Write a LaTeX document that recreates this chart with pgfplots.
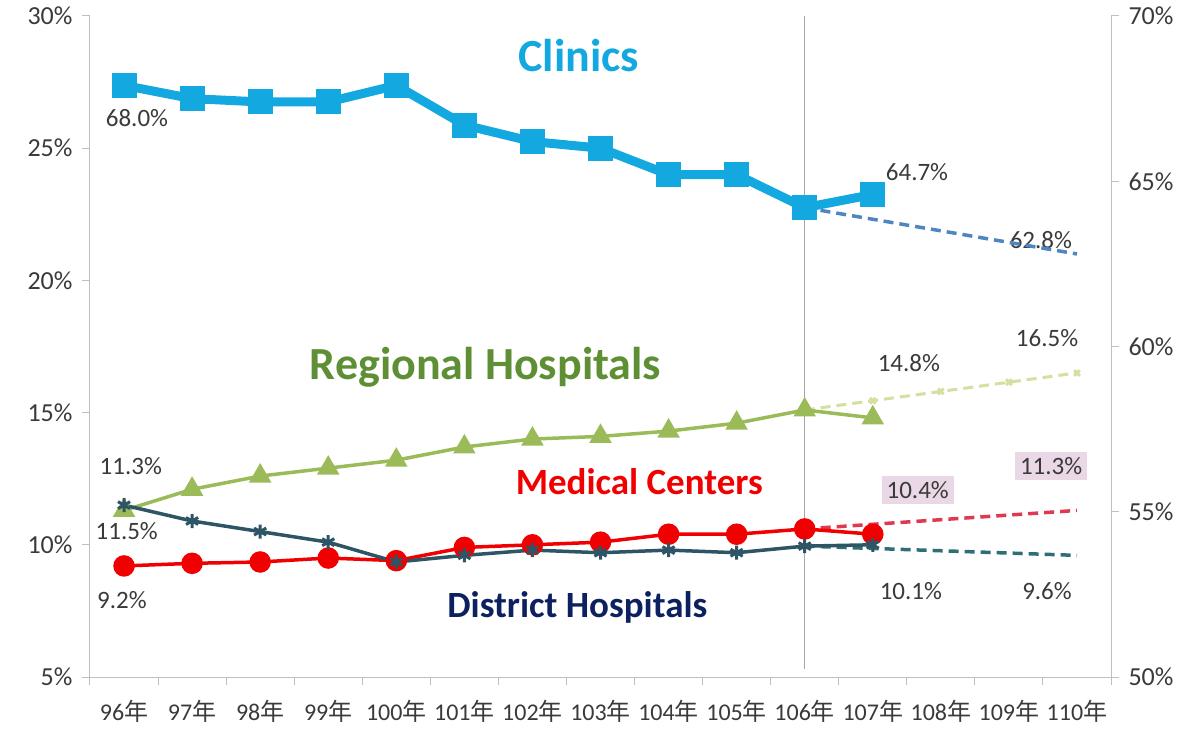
\documentclass[border=0pt]{standalone}
\usepackage{pgfplots}
\pgfplotsset{compat=1.18}
\usepackage{fontspec}
\setmainfont{Carlito}
\newfontfamily\cjk{Noto Sans CJK TC}

\definecolor{clin}{HTML}{14A8E0}
\definecolor{clinproj}{HTML}{4F86C0}
\definecolor{regtext}{HTML}{5F8F35}
\definecolor{regline}{HTML}{9BBB59}
\definecolor{regproj}{HTML}{D3E0A0}
\definecolor{medline}{HTML}{F00000}
\definecolor{medproj}{HTML}{E0384F}
\definecolor{distline}{HTML}{2E5566}
\definecolor{distproj}{HTML}{2F6E72}
\definecolor{disttext}{HTML}{0D2060}
\definecolor{axgray}{HTML}{BFBFBF}
\definecolor{tickgray}{HTML}{3A3A3A}
\definecolor{boxpink}{HTML}{EAD8E6}

\tikzset{lbl/.style={font=\fontsize{25}{25}\selectfont, text=tickgray}}
\pgfplotsset{
  base/.style={
    at={(0,0)}, anchor=south west,
    scale only axis, width=1021pt, height=661pt,
    xmin=-0.5, xmax=14.5, clip=false,
    axis line style={axgray, line width=1pt},
    tick style={axgray, line width=1pt},
    tick align=outside, major tick length=8pt, minor tick length=8pt,
    /pgf/number format/assume math mode=true,
    ticklabel style={text=tickgray},
  },
}

\begin{document}
\begin{tikzpicture}
\useasboundingbox (-90pt,-51pt) rectangle (1106pt,677pt);
\begin{axis}[base,
  ymin=5, ymax=30,
  axis x line*=bottom, axis y line*=left,
  xtick={0,...,14},
  xticklabels={96{\cjk 年},97{\cjk 年},98{\cjk 年},99{\cjk 年},100{\cjk 年},101{\cjk 年},102{\cjk 年},103{\cjk 年},104{\cjk 年},105{\cjk 年},106{\cjk 年},107{\cjk 年},108{\cjk 年},109{\cjk 年},110{\cjk 年}},
  major x tick style={draw=none},
  minor xtick={-0.5,0.5,...,14.5},
  xticklabel style={font=\fontsize{24}{24}\selectfont, yshift=-12pt},
  ytick={5,10,...,30},
  yticklabel={\pgfmathprintnumber{\tick}\%},
  yticklabel style={font=\fontsize{26}{26}\selectfont, xshift=-6pt},
]
\draw[gray!70, line width=1pt] (axis cs:10,30) -- (axis cs:10,5.3);

% projections
\addplot[regproj, line width=3pt, dash pattern=on 10pt off 6pt, mark=x, mark size=4pt, mark options={solid}] coordinates {(10,15.1) (11,15.45) (12,15.8) (13,16.15) (14,16.5)};
\addplot[medproj, line width=3.5pt, dash pattern=on 10pt off 6pt] coordinates {(10,10.6) (14,11.3)};
\addplot[distproj, line width=3.5pt, dash pattern=on 10pt off 6pt] coordinates {(10,9.95) (14,9.6)};

% Regional Hospitals
\addplot[regline, line width=3.5pt, mark=triangle*, mark size=9.5pt] coordinates {
(0,11.3) (1,12.1) (2,12.6) (3,12.9) (4,13.2) (5,13.7) (6,14.0) (7,14.1) (8,14.3) (9,14.6) (10,15.1) (11,14.8)};
% Medical Centers
\addplot[medline, line width=3.5pt, mark=*, mark size=9pt] coordinates {
(0,9.2) (1,9.3) (2,9.35) (3,9.5) (4,9.4) (5,9.9) (6,10.0) (7,10.1) (8,10.4) (9,10.4) (10,10.6) (11,10.4)};
% District Hospitals
\addplot[distline, line width=3.5pt, mark=asterisk, mark size=7pt, mark options={line width=3pt}] coordinates {
(0,11.5) (1,10.9) (2,10.5) (3,10.1) (4,9.35) (5,9.6) (6,9.8) (7,9.7) (8,9.8) (9,9.7) (10,9.95) (11,10.0)};

% titles
\node[font=\fontsize{46}{46}\selectfont\bfseries, text=clin] at (axis cs:6.68,28.52) {Clinics};
\node[font=\fontsize{46}{46}\selectfont\bfseries, text=regtext] at (axis cs:5.31,16.72) {Regional Hospitals};
\node[font=\fontsize{37}{37}\selectfont\bfseries, text=medline] at (axis cs:7.57,12.38) {Medical Centers};
\node[font=\fontsize{37}{37}\selectfont\bfseries, text=disttext] at (axis cs:6.66,7.65) {District Hospitals};

% value labels
\node[lbl] at (axis cs:0.19,26.14) {68.0\%};
\node[lbl] at (axis cs:11.65,24.1) {64.7\%};
\node[lbl] at (axis cs:13.47,21.53) {62.8\%};
\node[lbl] at (axis cs:13.56,17.82) {16.5\%};
\node[lbl] at (axis cs:11.53,16.88) {14.8\%};
\node[lbl] at (axis cs:0.1,12.98) {11.3\%};
\node[lbl] at (axis cs:0.04,10.52) {11.5\%};
\node[lbl] at (axis cs:-0.03,7.91) {9.2\%};
\node[lbl, fill=boxpink, inner sep=5pt] at (axis cs:11.66,12.07) {10.4\%};
\node[lbl, fill=boxpink, inner sep=5pt] at (axis cs:13.62,12.98) {11.3\%};
\node[lbl] at (axis cs:11.56,8.25) {10.1\%};
\node[lbl] at (axis cs:13.56,8.25) {9.6\%};
\end{axis}

\begin{axis}[base,
  ymin=50, ymax=70,
  hide x axis,
  axis y line*=right,
  ytick={50,55,...,70},
  yticklabel={\pgfmathprintnumber{\tick}\%},
  yticklabel style={font=\fontsize{26}{26}\selectfont, xshift=6pt},
]
\addplot[clinproj, line width=3.5pt, dash pattern=on 10pt off 6pt] coordinates {(10,64.2) (14,62.8)};
\addplot[clin, line width=9pt, mark=square*, mark size=12pt, mark options={line width=1pt}] coordinates {
(0,67.9) (1,67.5) (2,67.4) (3,67.4) (4,67.9) (5,66.7) (6,66.2) (7,66.0) (8,65.2) (9,65.2) (10,64.2) (11,64.6)};
\end{axis}
\end{tikzpicture}
\end{document}
